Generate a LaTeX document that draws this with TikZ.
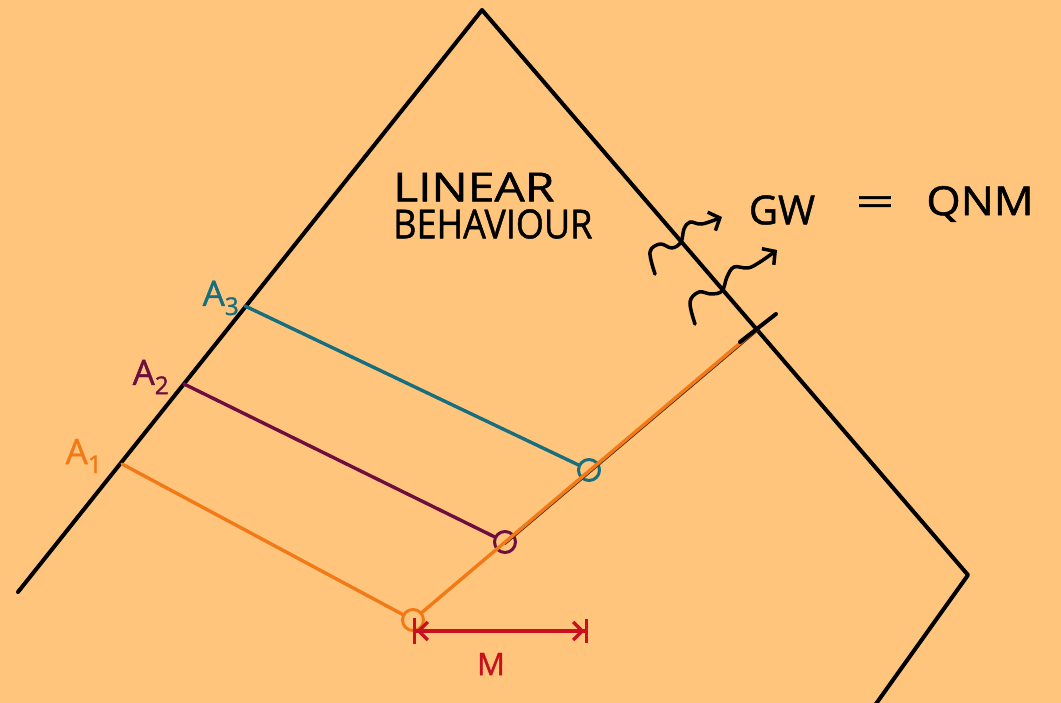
\documentclass[tikz,border=0pt]{standalone}
\usepackage{graphicx}
\usepackage{fontspec}
\setmainfont{Open Sans}
\newfontfamily\hw{Open Sans}[FakeBold=1.2]
\usetikzlibrary{arrows.meta}
\definecolor{bg}{RGB}{255,197,125}
\definecolor{orng}{RGB}{242,122,22}
\definecolor{purp}{RGB}{110,14,62}
\definecolor{teal2}{RGB}{22,110,126}
\definecolor{redm}{RGB}{200,16,30}
\tikzset{
  edge/.style={line width=4pt, black},
  ray/.style={line width=3.4pt},
  ring/.style={circle, draw, line width=3pt, minimum size=21pt, inner sep=0pt},
  wave/.style={line width=3.5pt, black, -{Straight Barb[length=9pt,width=20pt,line width=3.5pt]}},
  lbl/.style={font=\hw\fontsize{40}{46}\selectfont, inner sep=0pt},
  albl/.style={font=\hw\fontsize{35}{40}\selectfont, inner sep=0pt},
}
\begin{document}
\begin{tikzpicture}[x=1pt,y=-1pt,line cap=round,line join=round]
\fill[bg] (0,0) rectangle (1061,703);
\useasboundingbox (0,0) rectangle (1061,703);
\clip (0,0) rectangle (1061,703);
% light cone
\coordinate (L) at (18,592);
\coordinate (T) at (482,10);
\coordinate (R) at (968,575);
\coordinate (B) at (873,708);
\draw[edge] (L) -- (T) -- (R) -- (B);
% points
\coordinate (P1) at (122,464);
\coordinate (P2) at (184,384);
\coordinate (P3) at (245,306);
\coordinate (H) at (758,328);
\node[ring, draw=orng] (c1) at (413,620) {};
\node[ring, draw=purp] (c2) at (505,542) {};
\node[ring, draw=teal2] (c3) at (589,470) {};
% worldline
\draw[line width=2pt, black!70!orng] ([yshift=-2pt]c2.center) -- ([yshift=-2pt]H);
\draw[ray, orng] (c1) -- (H);
\draw[edge] ([shift={(-18,14)}]H) coordinate (h1) -- ([shift={(18,-14)}]H) coordinate (h2);
% rays
\draw[ray, orng] (P1) -- (c1);
\draw[ray, purp] (P2) -- (c2);
\draw[ray, teal2] (P3) -- (c3);
% labels
\node[albl, text=orng] (a1) at (84,456) {A\textsubscript{1}};
\node[albl, text=purp] (a2) at (151,377) {A\textsubscript{2}};
\node[albl, text=teal2] (a3) at (221,298) {A\textsubscript{3}};
\node[lbl, anchor=west] (lin) at (393,187) {\scalebox{1.2}[1]{LINEAR}};
\node[lbl, anchor=west] (beh) at (393,224) {\scalebox{0.9}[1]{BEHAVIOUR}};
\node[lbl] (gw) at (782,210) {GW};
\node[lbl] (eq) at (875,206) {\scalebox{1.7}[1]{=}};
\node[lbl] (qnm) at (980,204) {\scalebox{1.1}[1]{QNM}};
% waves
\draw[wave] plot[smooth, tension=0.6] coordinates {(655,274) (650,252) (660,244) (672,248) (681,242) (684,229) (690,222) (702,224) (722,217)};
\draw[wave] plot[smooth, tension=0.6] coordinates {(695,324) (690,302) (699,292) (711,294) (722,291) (727,277) (734,267) (748,268) (760,262) (777,250)};
% M
\coordinate (M1) at (413,631);
\coordinate (M2) at (588,631);
\draw[line width=3.4pt, redm, {Bar[width=26pt,line width=3.4pt]Straight Barb[length=9pt,width=18pt,line width=3.4pt]}-{Straight Barb[length=9pt,width=18pt,line width=3.4pt]Bar[width=24pt,line width=3.4pt]}] (M1) -- (M2);
\node[font=\hw\fontsize{31}{36}\selectfont, text=redm, inner sep=0pt] (m) at (491,664) {M};
\end{tikzpicture}
\end{document}
